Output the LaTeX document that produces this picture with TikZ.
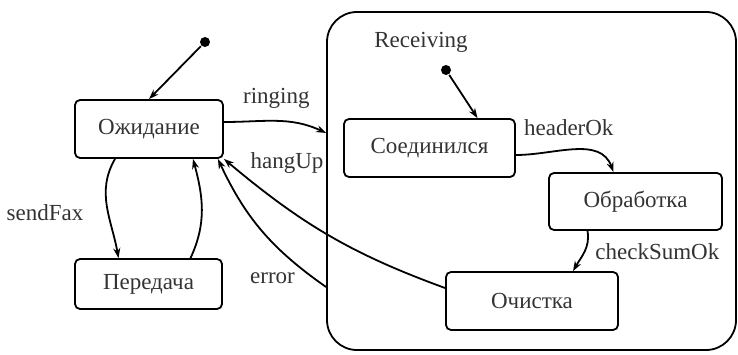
\documentclass[tikz,border=0pt]{standalone}
\usepackage{fontspec}
\setmainfont{Liberation Serif}
\usetikzlibrary{arrows.meta}
\tikzset{lbl/.style={draw=none, fill=none, minimum size=0pt, rounded corners=0pt,
  inner sep=1pt, font=\fontsize{11.5}{13}\selectfont}}
\tikzset{initdot/.style={circle, fill, draw=none, minimum size=5pt, inner sep=0pt}}

\begin{document}
\begin{tikzpicture}[x=0.5pt, y=0.5pt, every node/.style={rectangle, draw,
  rounded corners=2.5pt, minimum height=29pt, inner sep=2pt, text=black!80,
  font=\fontsize{11.5}{13}\selectfont}, >={Stealth[length=5pt, width=3.5pt]},
  line width=0.9pt]
  \useasboundingbox (0,0) rectangle (738,354);
  % Composite state and its name
  \node[minimum width=204.5pt, minimum height=169pt, rounded corners=15pt] (recv) at (531.5,173) {};
  \node[lbl] (recvname) at (421,312) {Receiving};
  % Outer states
  \node[initdot] (init) at (205,312) {};
  \node[minimum width=74pt] (wait) at (149,225) {Ожидание};
  \node[minimum width=73.5pt, minimum height=25pt] (send) at (148.5,70) {Передача};
  % Inner states
  \node[initdot] (recvinit) at (446,284) {};
  \node[minimum width=85.5pt] (conn) at (429.5,206) {Соединился};
  \node[minimum width=86.5pt, minimum height=28.5pt] (proc) at (635.5,152.5) {Обработка};
  \node[minimum width=86pt] (clean) at (532,53) {Очистка};
  % Transitions outside
  \draw[->] (init) -- (wait.north);
  \draw[->] ([xshift=-17pt]wait.south) to[out=240, in=100] ([xshift=-15pt]send.north);
  \node[lbl] (sendlbl) at (45,141) {sendFax};
  \draw[->] ([xshift=21pt]send.north) to[out=65, in=-75] ([xshift=22pt]wait.south);
  \draw[->] ([yshift=3.5pt]wait.east) to[out=0, in=155]
    node[lbl, pos=0.5, above=5pt] {ringing} ([yshift=24pt]recv.west);
  \draw[->] ([yshift=-53pt]recv.west) to[out=145, in=-65]
    node[lbl, pos=0.08, left=8pt] {error} ([xshift=-3pt]wait.south east);
  \draw[->] ([yshift=6.5pt]clean.west) to[out=160, in=-40] (wait.south east);
  \node[lbl] (hanglbl) at (287,191) {hangUp};
  % Transitions inside
  \draw[->] (recvinit) -- ([xshift=24pt]conn.north);
  \draw[->] ([yshift=-3.5pt]conn.east) to[out=0, in=110]
    node[lbl, pos=0.45, above=6pt] {headerOk} ([xshift=-11pt]proc.north);
  \draw[->] ([xshift=-24pt]proc.south) to[out=-80, in=60]
    node[lbl, pos=0.5, right=4pt] {checkSumOk} ([xshift=20.5pt]clean.north);
\end{tikzpicture}
\end{document}
